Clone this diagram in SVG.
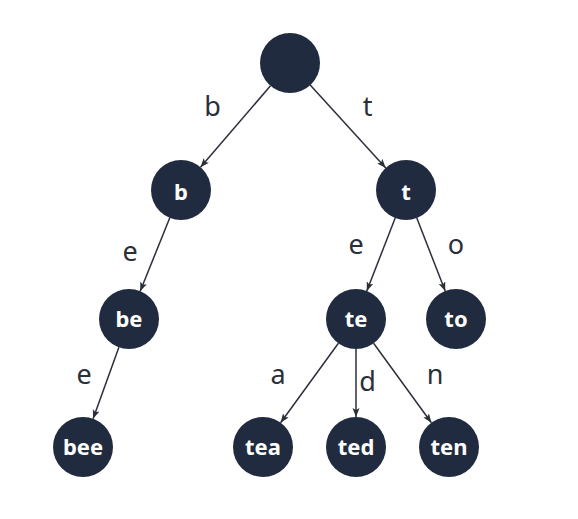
<svg xmlns="http://www.w3.org/2000/svg" width="578" height="519" viewBox="0 0 578 519">
  <style>
    .node circle { fill: #202b3f; }
    .node text { fill: #ffffff; font-family: "Noto Sans", "Open Sans", sans-serif; font-weight: bold; font-size: 22px; text-anchor: middle; }
    .edge { stroke: #2a2f3a; stroke-width: 1.5; fill: none; marker-end: url(#arrow); }
    .lbl { fill: #2a2f3a; font-family: "Noto Sans", "Open Sans", sans-serif; font-size: 27px; text-anchor: middle; }
  </style>
  <defs>
    <marker id="arrow" markerUnits="userSpaceOnUse" markerWidth="10" markerHeight="8" refX="9" refY="3.5" orient="auto">
      <path d="M0,0 L9,3.5 L0,7 L2,3.5 z" fill="#2a2f3a"/>
    </marker>
  </defs>
  <rect width="578" height="519" fill="#ffffff"/>

  <g id="connectors">
    <line class="edge" x1="270.5" y1="85.8" x2="200.5" y2="167.2"/>
    <line class="edge" x1="310.2" y1="85.1" x2="385.8" y2="167.9"/>
    <line class="edge" x1="169.8" y1="217.8" x2="140.2" y2="291.2"/>
    <line class="edge" x1="118.9" y1="347.2" x2="93.1" y2="418.8"/>
    <line class="edge" x1="395.2" y1="218" x2="366.8" y2="291"/>
    <line class="edge" x1="416.8" y1="218" x2="445.2" y2="291"/>
    <line class="edge" x1="338.4" y1="343.3" x2="280.6" y2="422.7"/>
    <line class="edge" x1="356" y1="349" x2="356" y2="417"/>
    <line class="edge" x1="373.6" y1="343.3" x2="431.4" y2="422.7"/>
    <text class="lbl" x="212.5" y="116">b</text>
    <text class="lbl" x="367.5" y="116">t</text>
    <text class="lbl" x="130" y="261">e</text>
    <text class="lbl" x="356" y="254">e</text>
    <text class="lbl" x="456" y="254">o</text>
    <text class="lbl" x="84" y="384">e</text>
    <text class="lbl" x="278" y="384">a</text>
    <text class="lbl" x="367.5" y="391">d</text>
    <text class="lbl" x="435" y="384">n</text>
  </g>

  <g id="root" class="node"><circle cx="290" cy="63" r="30"/></g>
  <g id="node-b" class="node"><circle cx="181" cy="190" r="30"/><text x="181" y="200">b</text></g>
  <g id="node-t" class="node"><circle cx="406" cy="190" r="30"/><text x="406" y="200">t</text></g>
  <g id="node-be" class="node"><circle cx="129" cy="319" r="30"/><text x="129" y="327">be</text></g>
  <g id="node-te" class="node"><circle cx="356" cy="319" r="30"/><text x="356" y="327">te</text></g>
  <g id="node-to" class="node"><circle cx="456" cy="319" r="30"/><text x="456" y="327">to</text></g>
  <g id="node-bee" class="node"><circle cx="83" cy="447" r="30"/><text x="83" y="455">bee</text></g>
  <g id="node-tea" class="node"><circle cx="263" cy="447" r="30"/><text x="263" y="455">tea</text></g>
  <g id="node-ted" class="node"><circle cx="356" cy="447" r="30"/><text x="356" y="455">ted</text></g>
  <g id="node-ten" class="node"><circle cx="449" cy="447" r="30"/><text x="449" y="455">ten</text></g>
</svg>
